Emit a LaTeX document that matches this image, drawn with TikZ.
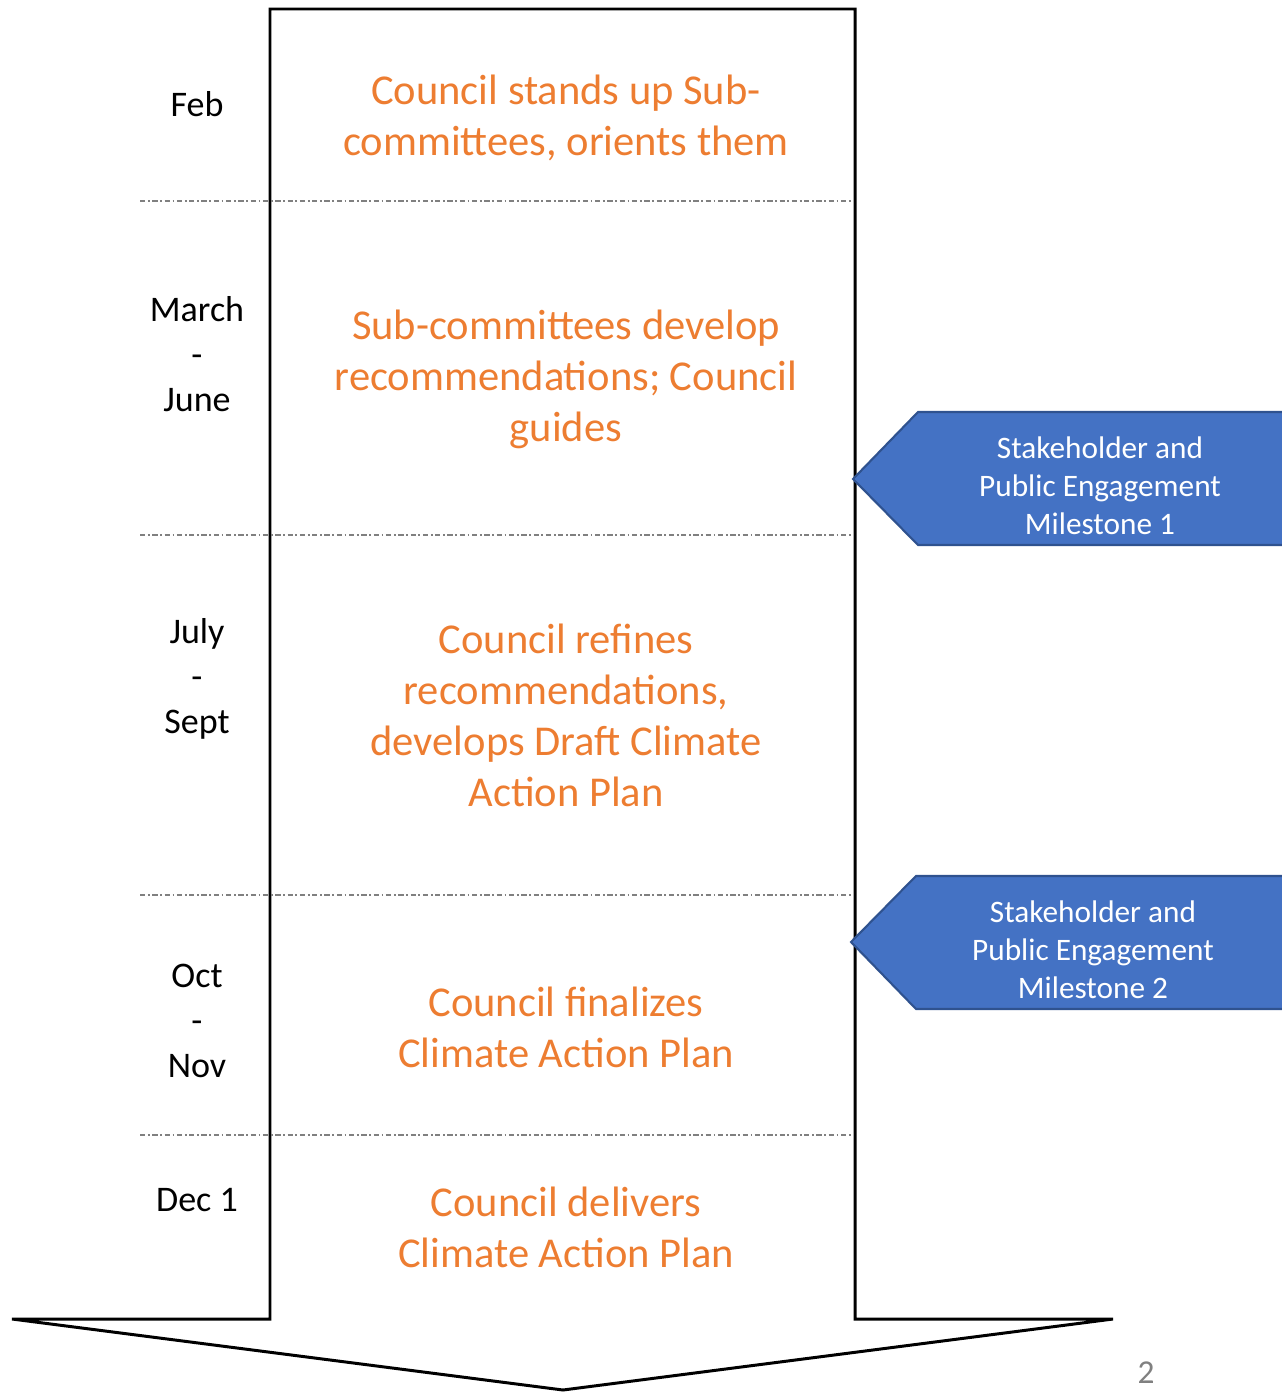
\documentclass[tikz,border=0pt]{standalone}
\usepackage{fontspec}
\setmainfont{Carlito}

\definecolor{planorange}{HTML}{ED7D31}
\definecolor{mileblue}{HTML}{4472C4}
\definecolor{mileedge}{HTML}{2F528F}

\tikzset{
	month/.style={align=center, font=\fontsize{20.5}{25.6}\selectfont},
	task/.style={align=center, text=planorange, font=\fontsize{24.2}{29}\selectfont},
	divider/.style={gray, line width=0.6pt, dash pattern=on 3pt off 1.5pt on 1pt off 1.5pt},
	milestone/.style={fill=mileblue, draw=mileedge, line width=1.2pt},
	miletext/.style={align=center, text=white, font=\fontsize{17.8}{21.6}\selectfont},
}

\begin{document}
\begin{tikzpicture}[x=0.02cm,y=-0.02cm]
	\useasboundingbox (0,0) rectangle (1281,1392);
	
	\def\shaftL{270}    
	\def\shaftR{855}    
	\def\shaftT{9}      
	\def\headY{1319}    
	\def\midX{563}      
	\def\textX{566}     
	\def\monthX{197}    
	
	% the big arrow
	\draw[line width=1.7pt, line join=miter] (\shaftL,\shaftT) -- (\shaftR,\shaftT) -- (\shaftR,\headY)
		-- (1113,\headY) -- (\midX,1390) -- (12,\headY) -- (\shaftL,\headY) -- cycle;
	
	\foreach \y in {201,535,895,1135}
		\draw[divider] (140,\y) -- (852,\y);
	
	\node[month] (monthFeb) at (\monthX,104) {Feb};
	\node[month] (monthMar) at (\monthX,354) {March\\-\\June};
	\node[month] (monthJul) at (\monthX,679) {July\\-\\Sept};
	\node[month] (monthOct) at (\monthX,1021) {Oct\\-\\Nov};
	\node[month] (monthDec) at (\monthX,1200) {Dec 1};
	
	\node[task] (planFeb) at (\textX,118) {Council stands up Sub-\\committees, orients them};
	\node[task] (planMar) at (\textX,379) {Sub-committees develop\\recommendations; Council\\guides};
	\node[task] (planJul) at (\textX,715) {Council refines\\recommendations,\\develops Draft Climate\\Action Plan};
	\node[task] (planOct) at (\textX,1027) {Council finalizes\\Climate Action Plan};
	\node[task] (planDec) at (\textX,1227) {Council delivers\\Climate Action Plan};
	
	% engagement milestones
	\draw[milestone] (853,479) -- (918,412) -- (1295,412) -- (1295,545) -- (918,545) -- cycle;
	\node[miletext] (mileA) at (1100,486) {Stakeholder and\\Public Engagement\\Milestone 1};
	
	\draw[milestone] (851,942) -- (916,876) -- (1295,876) -- (1295,1009) -- (916,1009) -- cycle;
	\node[miletext] (mileB) at (1093,950) {Stakeholder and\\Public Engagement\\Milestone 2};
	
	\node[text=gray, font=\fontsize{19}{22}\selectfont] (pageNum) at (1146,1373) {2};
\end{tikzpicture}
\end{document}
